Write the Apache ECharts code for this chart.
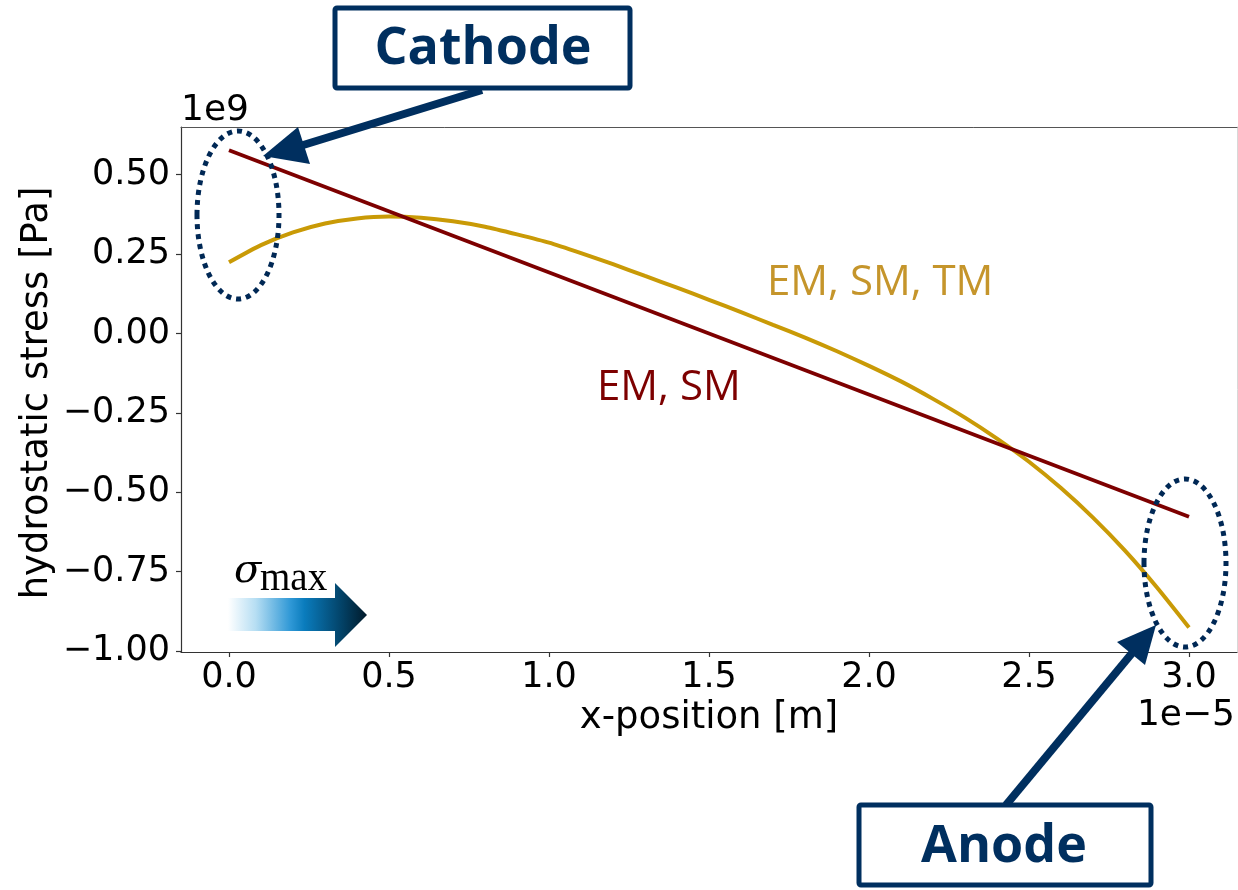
<!DOCTYPE html>
<html>
<head>
<meta charset="utf-8">
<title>Hydrostatic stress along the line</title>
<script src="https://cdn.jsdelivr.net/npm/echarts@6/dist/echarts.min.js"></script>
<style>
  html, body { margin: 0; padding: 0; background: #ffffff; }
  #chart { width: 1238px; height: 890px; }
</style>
</head>
<body>
<div id="chart"></div>
<script>
// x-position in units of 1e-5 m, stress in units of 1e9 Pa
const xTicks = [0, 0.5, 1.0, 1.5, 2.0, 2.5, 3.0];
const yTicks = [-1.0, -0.75, -0.5, -0.25, 0, 0.25, 0.5];

// EM, SM, TM (curved profile)
const emSmTmX = [0, 0.1, 0.2, 0.3, 0.4, 0.5, 0.6, 0.7, 0.8, 0.9, 1.0, 1.1, 1.2, 1.3, 1.4, 1.5,
                 1.6, 1.7, 1.8, 1.9, 2.0, 2.1, 2.2, 2.3, 2.4, 2.5, 2.6, 2.7, 2.8, 2.9, 3.0];
const emSmTmY = [0.224, 0.278, 0.318, 0.346, 0.362, 0.368, 0.364, 0.353, 0.336, 0.312, 0.286, 0.253, 0.218, 0.181, 0.144, 0.106,
                 0.067, 0.027, -0.013, -0.056, -0.102, -0.151, -0.206, -0.265, -0.331, -0.404, -0.487, -0.580, -0.684, -0.800, -0.926];

// EM, SM (linear profile)
const emSmX = [0, 3.0];
const emSmY = [0.577, -0.577];

const NAVY = '#002f5f';

function pairs(xs, ys) { return xs.map((x, i) => [x, ys[i]]); }

const fmtY = v => (v < 0 ? '\u2212' : '') + Math.abs(v).toFixed(2);
const fmtX = v => v.toFixed(1);

const chart = echarts.init(document.getElementById('chart'), null, { renderer: 'canvas' });

const option = {
  animation: false,
  backgroundColor: '#ffffff',
  grid: { left: 181, top: 127, right: 1, bottom: 238, containLabel: false },
  xAxis: [{
    type: 'value', min: -0.15, max: 3.15, position: 'bottom',
    splitLine: { show: false },
    axisLine: { show: true, onZero: false, lineStyle: { color: '#333', width: 1.2 } },
    axisTick: { show: true, length: 5, inside: false, customValues: xTicks, lineStyle: { color: '#333', width: 1.2 } },
    axisLabel: { show: true, customValues: xTicks, formatter: fmtX, fontFamily: 'DejaVu Sans', fontSize: 35, color: '#000', margin: 8 }
  }, {
    type: 'value', min: -0.15, max: 3.15, position: 'top',
    splitLine: { show: false }, axisTick: { show: false }, axisLabel: { show: false },
    axisLine: { show: true, onZero: false, lineStyle: { color: '#555', width: 1 } }
  }],
  yAxis: [{
    type: 'value', min: -1.003, max: 0.65, position: 'left',
    splitLine: { show: false },
    axisLine: { show: true, onZero: false, lineStyle: { color: '#333', width: 1.2 } },
    axisTick: { show: true, length: 5, inside: false, customValues: yTicks, lineStyle: { color: '#333', width: 1.2 } },
    axisLabel: { show: true, customValues: yTicks, formatter: fmtY, fontFamily: 'DejaVu Sans', fontSize: 35, color: '#000', margin: 11 }
  }, {
    type: 'value', min: -1.003, max: 0.65, position: 'right',
    splitLine: { show: false }, axisTick: { show: false }, axisLabel: { show: false },
    axisLine: { show: true, onZero: false, lineStyle: { color: '#d8d8d8', width: 1 } }
  }],
  series: [{
    name: 'EM, SM, TM',
    type: 'line',
    data: pairs(emSmTmX, emSmTmY),
    smooth: 0.2,
    showSymbol: false,
    lineStyle: { color: '#c99a06', width: 4 },
    z: 2
  }, {
    name: 'EM, SM',
    type: 'line',
    data: pairs(emSmX, emSmY),
    showSymbol: false,
    lineStyle: { color: '#7d0000', width: 3.8 },
    z: 3
  }],
  graphic: [
    // axis titles and scale offsets
    { type: 'text', z: 10, style: { text: 'x-position [m]', x: 709, y: 718, font: '37px "DejaVu Sans"', fill: '#000', textAlign: 'center', textVerticalAlign: 'middle' } },
    { type: 'text', z: 10, rotation: Math.PI / 2, x: 37, y: 393, style: { text: 'hydrostatic stress [Pa]', x: 0, y: 0, font: '37px "DejaVu Sans"', fill: '#000', textAlign: 'center', textVerticalAlign: 'middle' } },
    { type: 'text', z: 10, style: { text: '1e9', x: 181, y: 111, font: '36px "DejaVu Sans"', fill: '#000', textAlign: 'left', textVerticalAlign: 'middle' } },
    { type: 'text', z: 10, style: { text: '1e\u22125', x: 1235, y: 716, font: '36px "DejaVu Sans"', fill: '#000', textAlign: 'right', textVerticalAlign: 'middle' } },

    // curve labels
    { type: 'text', z: 10, style: { text: 'EM, SM, TM', x: 767, y: 283, font: '42px "Open Sans"', fill: '#c5952b', textAlign: 'left', textVerticalAlign: 'middle' } },
    { type: 'text', z: 10, style: { text: 'EM, SM', x: 597, y: 388, font: '42px "Open Sans"', fill: '#7d0000', textAlign: 'left', textVerticalAlign: 'middle' } },

    // dotted ellipses at the two ends
    { type: 'ellipse', z: 20, shape: { cx: 238, cy: 215, rx: 41, ry: 84 }, style: { fill: null, stroke: '#002855', lineWidth: 5, lineDash: [5, 5] } },
    { type: 'ellipse', z: 20, shape: { cx: 1185, cy: 563, rx: 41, ry: 84 }, style: { fill: null, stroke: '#002855', lineWidth: 5, lineDash: [5, 5] } },

    // Cathode callout
    { type: 'line', z: 30, shape: { x1: 482, y1: 90, x2: 300, y2: 146 }, style: { stroke: NAVY, lineWidth: 8 } },
    { type: 'polygon', z: 30, shape: { points: [[263, 156], [298, 127], [310, 164]] }, style: { fill: NAVY } },
    { type: 'rect', z: 30, shape: { x: 335, y: 8, width: 295, height: 80, r: 2 }, style: { fill: '#ffffff', stroke: NAVY, lineWidth: 5 } },
    { type: 'text', z: 31, style: { text: 'Cathode', x: 483, y: 49, font: 'bold 52px "Open Sans"', fill: NAVY, textAlign: 'center', textVerticalAlign: 'middle' } },

    // Anode callout
    { type: 'line', z: 30, shape: { x1: 1006, y1: 805, x2: 1133, y2: 652 }, style: { stroke: NAVY, lineWidth: 8 } },
    { type: 'polygon', z: 30, shape: { points: [[1156, 625], [1117, 642], [1145, 665]] }, style: { fill: NAVY } },
    { type: 'rect', z: 30, shape: { x: 859, y: 805, width: 292, height: 80, r: 2 }, style: { fill: '#ffffff', stroke: NAVY, lineWidth: 5 } },
    { type: 'text', z: 31, style: { text: 'Anode', x: 1004, y: 847, font: 'bold 52px "Open Sans"', fill: NAVY, textAlign: 'center', textVerticalAlign: 'middle' } },

    // sigma_max direction arrow
    { type: 'polygon', z: 15,
      shape: { points: [[228, 598], [335, 598], [335, 583], [367, 615], [335, 647], [335, 631], [228, 631]] },
      style: { fill: { type: 'linear', x: 0, y: 0, x2: 1, y2: 0, colorStops: [
        { offset: 0, color: '#ffffff' },
        { offset: 0.2, color: '#b6def3' },
        { offset: 0.45, color: '#2f98d6' },
        { offset: 0.55, color: '#0a7cbd' },
        { offset: 0.8, color: '#03466d' },
        { offset: 1, color: '#011a2a' }
      ] } } },
    { type: 'text', z: 15, style: { text: '\u03C3', x: 234, y: 572, font: 'italic 40px "DejaVu Serif"', fill: '#000', textAlign: 'left', textVerticalAlign: 'middle' } },
    { type: 'text', z: 15, style: { text: 'max', x: 260, y: 580, font: '39px "Liberation Serif"', fill: '#000', textAlign: 'left', textVerticalAlign: 'middle' } }
  ]
};

chart.setOption(option);
</script>
</body>
</html>
